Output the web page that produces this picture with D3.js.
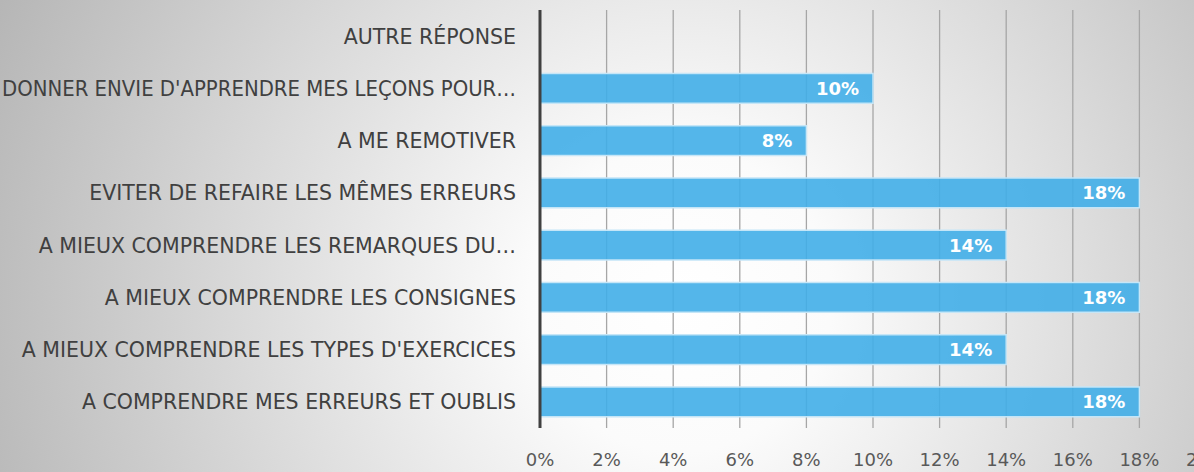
<!DOCTYPE html>
<html>
<head>
<meta charset="utf-8">
<script src="https://cdn.jsdelivr.net/npm/d3@7"></script>
<style>
  html, body { margin: 0; padding: 0; overflow: hidden; }
  svg { display: block; font-family: "DejaVu Sans", "Open Sans", sans-serif; }
</style>
</head>
<body>
<div class="canvas"></div>
<script>
var width = 1194;
var height = 472;

// categories, top to bottom
const categories = [
    "AUTRE RÉPONSE",
    "DONNER ENVIE D'APPRENDRE MES LEÇONS POUR…",
    "A ME REMOTIVER",
    "EVITER DE REFAIRE LES MÊMES ERREURS",
    "A MIEUX COMPRENDRE LES REMARQUES DU…",
    "A MIEUX COMPRENDRE LES CONSIGNES",
    "A MIEUX COMPRENDRE LES TYPES D'EXERCICES",
    "A COMPRENDRE MES ERREURS ET OUBLIS"
];
const values = [0, 10, 8, 18, 14, 18, 14, 18];
const ticks = [0, 2, 4, 6, 8, 10, 12, 14, 16, 18, 20];

const margin = { left: 540, top: 10, bottom: 44 };

const rows = categories.map((c, i) => ({ cat: c, val: values[i] }));

var svg = d3.select(".canvas").append("svg")
    .attr("width", width)
    .attr("height", height);

// background gradient
var defs = svg.append("defs");
var grad = defs.append("radialGradient")
    .attr("id", "bg")
    .attr("gradientUnits", "userSpaceOnUse")
    .attr("cx", 680).attr("cy", 300).attr("r", 760);
grad.append("stop").attr("offset", "0%").attr("stop-color", "#ffffff");
grad.append("stop").attr("offset", "20%").attr("stop-color", "#fbfbfb");
grad.append("stop").attr("offset", "100%").attr("stop-color", "#b4b4b4");

svg.append("rect").attr("width", width).attr("height", height).attr("fill", "url(#bg)");

var x = d3.scaleLinear().domain([0, 20]).range([margin.left, 1206]);
var y = d3.scaleBand()
    .domain(categories)
    .range([margin.top, height - margin.bottom])
    .paddingInner(0.43)
    .paddingOuter(0.215);

// gridlines
svg.append("g")
    .selectAll("line")
    .data(ticks.slice(1))
    .enter()
    .append("line")
    .attr("x1", d => x(d)).attr("x2", d => x(d))
    .attr("y1", margin.top).attr("y2", height - margin.bottom)
    .attr("stroke", "#a6a6a6")
    .attr("stroke-width", 1.3);

var withBars = rows.filter(d => d.val > 0);

// bars
svg.append("g")
    .selectAll("rect")
    .data(withBars)
    .enter()
    .append("rect")
    .attr("x", x(0))
    .attr("y", d => y(d.cat))
    .attr("height", y.bandwidth())
    .attr("width", d => x(d.val) - x(0))
    .attr("fill", "#41aee8")
    .attr("fill-opacity", 0.9)
    .attr("stroke", "#c6e6f7")
    .attr("stroke-width", 1.5);

// value labels
svg.append("g")
    .selectAll("text")
    .data(withBars)
    .enter()
    .append("text")
    .attr("x", d => x(d.val) - 14)
    .attr("y", d => y(d.cat) + y.bandwidth() / 2)
    .attr("dy", "0.36em")
    .attr("text-anchor", "end")
    .attr("fill", "#ffffff")
    .attr("font-weight", "bold")
    .attr("font-size", 18)
    .text(d => d.val + "%");

// category labels
var labelRight = margin.left - 24;
svg.append("g")
    .selectAll("text")
    .data(categories)
    .enter()
    .append("text")
    .attr("x", labelRight)
    .attr("y", d => y(d) + y.bandwidth() / 2)
    .attr("dy", "0.36em")
    .attr("text-anchor", "end")
    .attr("fill", "#404040")
    .attr("font-size", 20.5)
    .text(d => d)
    .each(function () {
        // squeeze labels that would run past the left edge
        var w = this.getComputedTextLength();
        if (w > labelRight - 2) {
            d3.select(this)
                .attr("textLength", labelRight - 2)
                .attr("lengthAdjust", "spacingAndGlyphs");
        }
    });

// x axis labels
svg.append("g")
    .selectAll("text")
    .data(ticks)
    .enter()
    .append("text")
    .attr("x", d => x(d))
    .attr("y", 460)
    .attr("dy", "0.36em")
    .attr("text-anchor", "middle")
    .attr("fill", "#595959")
    .attr("font-size", 18)
    .text(d => d + "%");

// vertical axis line
svg.append("line")
    .attr("x1", x(0)).attr("x2", x(0))
    .attr("y1", margin.top).attr("y2", height - margin.bottom)
    .attr("stroke", "#404040")
    .attr("stroke-width", 3);
</script>
</body>
</html>
